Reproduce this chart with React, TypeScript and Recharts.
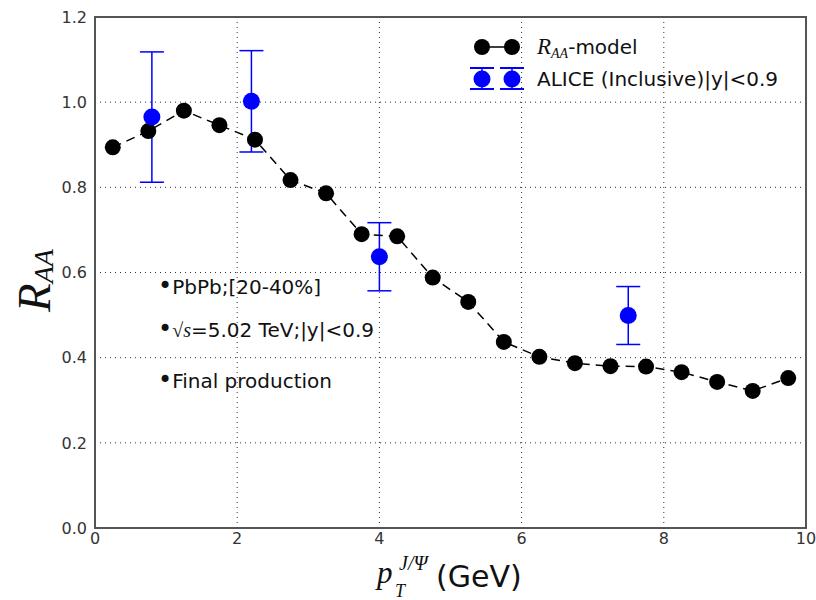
import React from "react";
import {
  CartesianGrid,
  ComposedChart,
  Customized,
  ErrorBar,
  ReferenceArea,
  Scatter,
  XAxis,
  YAxis,
} from "recharts";

const modelPt = [
  0.25, 0.75, 1.25, 1.75, 2.25, 2.75, 3.25, 3.75, 4.25, 4.75, 5.25, 5.75,
  6.25, 6.75, 7.25, 7.75, 8.25, 8.75, 9.25, 9.75,
];
const modelRaa = [
  0.894, 0.932, 0.98, 0.946, 0.912, 0.817, 0.786, 0.69, 0.685, 0.588, 0.531,
  0.437, 0.402, 0.387, 0.38, 0.379, 0.366, 0.343, 0.322, 0.352,
];

const alicePt = [0.8, 2.2, 4.0, 7.5];
const aliceRaa = [0.965, 1.002, 0.637, 0.499];
const aliceErr = [0.153, 0.119, 0.08, 0.068];

const xTicks = [0, 2, 4, 6, 8, 10];
const yTicks = [0, 0.2, 0.4, 0.6, 0.8, 1.0, 1.2];

const modelData = modelPt.map((x, i) => ({ x, y: modelRaa[i] }));
const aliceData = alicePt.map((x, i) => ({ x, y: aliceRaa[i], err: aliceErr[i] }));

const sans = "DejaVu Sans";
const serif = "Liberation Serif";
const BLUE = "#0000ff";

const BlackDot = (p: any) => <circle cx={p.cx} cy={p.cy} r={8} fill="#000" />;
const BlueDot = (p: any) => <circle cx={p.cx} cy={p.cy} r={8.5} fill={BLUE} />;

// text placed in page pixels (chart sits at the page origin)
const Decorations = () => (
  <g>
    {/* y axis title */}
    <g transform="translate(50,312) rotate(-90)">
      <text fontFamily={serif} fontStyle="italic" fontSize={47} fill="#111">
        R
        <tspan fontSize={28} dy={3}>
          AA
        </tspan>
      </text>
    </g>
    {/* x axis title */}
    <text x={377} y={583} fontFamily={serif} fontStyle="italic" fontSize={31} fill="#111">
      p
    </text>
    <text x={395} y={597} fontFamily={serif} fontStyle="italic" fontSize={18} fill="#111">
      T
    </text>
    <text x={399} y={570} fontFamily={serif} fontStyle="italic" fontSize={20} fill="#111">
      J/Ψ
    </text>
    <text x={436} y={587} fontFamily={sans} fontSize={30} fill="#111">
      (GeV)
    </text>

    {/* legend */}
    <line x1={482} y1={47} x2={512} y2={47} stroke="#000" strokeWidth={1.5} />
    <circle cx={482} cy={47} r={8} fill="#000" />
    <circle cx={512} cy={47} r={8} fill="#000" />
    <text x={537} y={54} fontSize={20} fill="#111">
      <tspan fontFamily={serif} fontStyle="italic" fontSize={23}>
        R
      </tspan>
      <tspan fontFamily={serif} fontStyle="italic" fontSize={14} dy={4}>
        AA
      </tspan>
      <tspan fontFamily={sans} dy={-4}>
        -model
      </tspan>
    </text>
    {[482, 512].map((cx) => (
      <g key={cx}>
        <line x1={cx} y1={68} x2={cx} y2={89} stroke={BLUE} strokeWidth={1.5} />
        <line x1={cx - 12} y1={68} x2={cx + 12} y2={68} stroke={BLUE} strokeWidth={2} />
        <line x1={cx - 12} y1={89} x2={cx + 12} y2={89} stroke={BLUE} strokeWidth={2} />
        <circle cx={cx} cy={79} r={8.5} fill={BLUE} />
      </g>
    ))}
    <text x={537} y={86} fontFamily={sans} fontSize={20} fill="#111">
      ALICE (Inclusive)|y|&lt;0.9
    </text>

    {/* annotations */}
    <text x={158} y={294} fontFamily={sans} fontSize={20} fill="#111">
      <tspan fontSize={24}>•</tspan>PbPb;[20-40%]
    </text>
    <text x={158} y={337} fontFamily={sans} fontSize={20} fill="#111">
      <tspan fontSize={24}>•</tspan>
      <tspan fontFamily={serif}>√</tspan>
      <tspan fontFamily={serif} fontStyle="italic">s</tspan>=5.02 TeV;|y|&lt;0.9
    </text>
    <text x={158} y={388} fontFamily={sans} fontSize={20} fill="#111">
      <tspan fontSize={24}>•</tspan>Final production
    </text>
  </g>
);

export default function App() {
  return (
    <>
      <style>{"body{margin:0}"}</style>
      <ComposedChart
        width={816}
        height={600}
        margin={{ top: 17, right: 10, bottom: 0, left: 0 }}
      >
        <CartesianGrid stroke="#333" strokeDasharray="1 4" />
        <XAxis
          type="number"
          dataKey="x"
          domain={[0, 10]}
          ticks={xTicks}
          tickLine={false}
          axisLine={false}
          tickSize={0}
          tickMargin={5}
          height={72}
          allowDataOverflow
          tick={{ fontFamily: sans, fontSize: 16, fill: "#333" }}
        />
        <YAxis
          type="number"
          dataKey="y"
          domain={[0, 1.2]}
          ticks={yTicks}
          tickFormatter={(v: number) => v.toFixed(1)}
          tickLine={false}
          axisLine={false}
          tickSize={0}
          tickMargin={8}
          width={95}
          allowDataOverflow
          tick={{ fontFamily: sans, fontSize: 16, fill: "#333" }}
        />
        <ReferenceArea
          x1={0}
          x2={10}
          y1={0}
          y2={1.2}
          fill="none"
          stroke="#555"
          strokeWidth={2}
        />
        <Scatter
          data={modelData}
          shape={BlackDot}
          line={{ stroke: "#000", strokeWidth: 1.5, strokeDasharray: "9 6" }}
          isAnimationActive={false}
        />
        <Scatter data={aliceData} shape={BlueDot} isAnimationActive={false}>
          <ErrorBar
            dataKey="err"
            direction="y"
            width={12}
            stroke={BLUE}
            strokeWidth={1.5}
            isAnimationActive={false}
          />
        </Scatter>
        <Customized component={Decorations} />
      </ComposedChart>
    </>
  );
}
